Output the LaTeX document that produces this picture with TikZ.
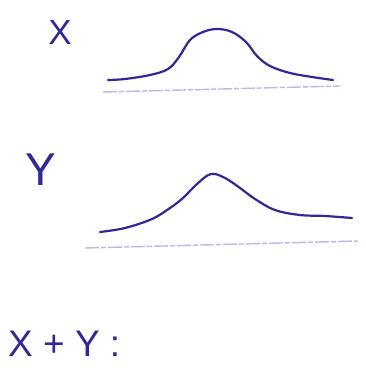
\documentclass[tikz,border=0pt]{standalone}
\usepackage{fontspec}
\setmainfont{Liberation Sans}
\definecolor{ink}{RGB}{48,40,150}
\definecolor{faint}{RGB}{192,180,236}
\tikzset{
  curve/.style={draw=ink, line width=2.2pt, line cap=round, line join=round},
  axisline/.style={draw=faint, line width=1.4pt, dash pattern=on 14pt off 2pt on 5pt off 2pt},
  lbl/.style={text=ink, inner sep=0pt, anchor=center}
}
\begin{document}
\begin{tikzpicture}[x=1pt,y=-1pt]
\useasboundingbox[fill=white] (0,0) rectangle (366,372);
% X distribution
\draw[axisline] (103,92) -- (340,86);
\draw[curve] plot[smooth, tension=0.6] coordinates {(108,80) (125,79) (150,75) (168,69) (179,57) (190,40) (203,32) (217,29) (232,32) (246,42) (257,56) (270,66) (290,73) (312,77) (333,80)};
\node[lbl, font=\fontsize{35}{35}\selectfont] (X) at (60,32) {X};
% Y distribution
\draw[axisline] (85,248) -- (358,241);
\draw[curve] plot[smooth, tension=0.6] coordinates {(100,232) (125,228) (152,219) (170,208) (183,198) (197,184) (211,174) (225,178) (240,188) (255,199) (275,210) (300,215) (325,216) (352,218)};
\node[lbl, font=\fontsize{46}{46}\selectfont] (Y) at (41,170) {Y};
% sum
\node[lbl, anchor=west, font=\fontsize{37}{37}\selectfont] (XY) at (8,344) {X + Y :};
\end{tikzpicture}
\end{document}
